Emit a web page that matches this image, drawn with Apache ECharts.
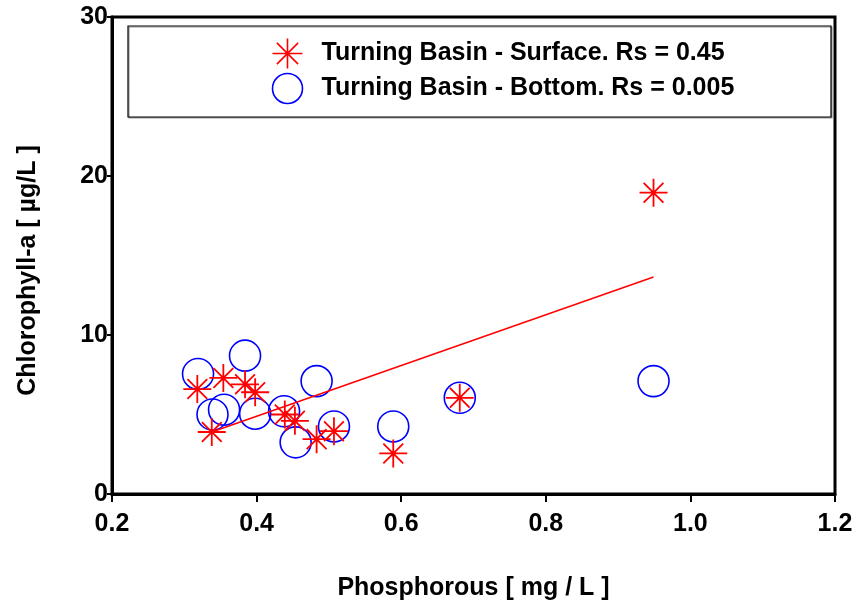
<!DOCTYPE html>
<html>
<head>
<meta charset="UTF-8">
<title></title>
<script src="https://cdn.jsdelivr.net/npm/echarts@6/dist/echarts.min.js"></script>
<style>
html, body { margin: 0; padding: 0; background: #fff; }
#chart { width: 859px; height: 602px; }
</style>
</head>
<body>
<div id="chart"></div>
<script type="text/javascript">
// phosphorous (mg/L) at each sampling
var phos = [0.318, 0.354, 0.384, 0.398, 0.338, 0.439, 0.453, 0.483, 0.507, 0.589, 0.681, 0.949];
// chlorophyll-a (ug/L), surface
var surface = [6.6, 7.3, 6.9, 6.4, 3.9, 5.0, 4.6, 3.45, 3.95, 2.55, 6.05, 18.95];
// chlorophyll-a (ug/L), bottom
var bottomPhos = [0.319, 0.384, 0.339, 0.355, 0.398, 0.483, 0.438, 0.454, 0.507, 0.589, 0.681, 0.949];
var bottom = [7.55, 8.7, 5.0, 5.3, 5.05, 7.1, 5.2, 3.25, 4.25, 4.25, 6.05, 7.1];
// fitted line end points for surface
var fitX = [0.338, 0.949];
var fitY = [3.9, 13.65];

var nameS = 'Turning Basin - Surface. Rs = 0.45';
var nameB = 'Turning Basin - Bottom. Rs = 0.005';

var starPath = 'path://M0,10L20,10M10,0L10,20M2.93,2.93L17.07,17.07M2.93,17.07L17.07,2.93';

function pairs(xs, ys) {
    var res = [];
    for (var i = 0; i < xs.length; i++) {
        res.push([xs[i], ys[i]]);
    }
    return res;
}

var font = 'Liberation Sans, Arial, sans-serif';
var myChart = echarts.init(document.getElementById('chart'));

var option = {
    animation: false,
    grid: {
        left: 112, right: 24, top: 17, bottom: 108,
        outerBoundsMode: 'none',
        containLabel: false,
        show: true,
        borderColor: '#000',
        borderWidth: 3
    },
    graphic: [{
        type: 'rect',
        shape: { x: 128, y: 26, width: 703, height: 91 },
        style: { fill: '#fff', stroke: '#000', lineWidth: 1.2, shadowColor: '#999', shadowOffsetX: 1, shadowOffsetY: 1 },
        z: 5
    }],
    legend: {
        orient: 'vertical',
        left: 265,
        top: 31,
        itemGap: 0,
        itemWidth: 30,
        itemHeight: 30,
        z: 10,
        textStyle: { fontFamily: font, fontSize: 25, fontWeight: 'bold', color: '#000', padding: [0, 0, 0, 14] },
        data: [
            { name: nameS, icon: starPath, itemStyle: { color: 'none', borderColor: '#ff0000', borderWidth: 1.6 } },
            { name: nameB, icon: 'circle', itemStyle: { color: 'none', borderColor: '#0000ff', borderWidth: 1.6 } }
        ]
    },
    xAxis: {
        type: 'value',
        min: 0.2, max: 1.2, interval: 0.2,
        name: 'Phosphorous [ mg / L ]',
        nameLocation: 'middle',
        nameGap: 82,
        nameTextStyle: { fontFamily: font, fontSize: 25, fontWeight: 'bold', color: '#000' },
        axisLine: { lineStyle: { color: '#000', width: 3 } },
        axisTick: { show: true, length: 8, lineStyle: { color: '#000', width: 2 } },
        axisLabel: {
            margin: 18,
            fontFamily: font, fontSize: 25, fontWeight: 'bold', color: '#000',
            formatter: function (v) { return v.toFixed(1); }
        },
        splitLine: { show: false }
    },
    yAxis: {
        type: 'value',
        min: 0, max: 30, interval: 10,
        name: 'Chlorophyll-a [ \u00b5g/L ]',
        nameLocation: 'middle',
        nameGap: 71,
        nameTextStyle: { fontFamily: font, fontSize: 25, fontWeight: 'bold', color: '#000', padding: [0, 30, 0, 0] },
        axisLine: { lineStyle: { color: '#000', width: 3 } },
        axisTick: { show: true, length: 5, lineStyle: { color: '#000', width: 2 } },
        axisLabel: { margin: 4, fontFamily: font, fontSize: 25, fontWeight: 'bold', color: '#000' },
        splitLine: { show: false }
    },
    series: [
        {
            name: nameB,
            type: 'scatter',
            symbol: 'circle',
            symbolSize: 31,
            itemStyle: { color: 'none', borderColor: '#0000ff', borderWidth: 1.6, opacity: 1 },
            data: pairs(bottomPhos, bottom),
            z: 2
        },
        {
            name: 'fit',
            type: 'line',
            symbol: 'none',
            lineStyle: { color: '#ff0000', width: 1.5 },
            data: pairs(fitX, fitY),
            z: 3
        },
        {
            name: nameS,
            type: 'scatter',
            symbol: starPath,
            symbolSize: 28,
            itemStyle: { color: 'none', borderColor: '#ff0000', borderWidth: 1.8, opacity: 1 },
            data: pairs(phos, surface),
            z: 4
        }
    ]
};
myChart.setOption(option);
</script>
</body>
</html>
